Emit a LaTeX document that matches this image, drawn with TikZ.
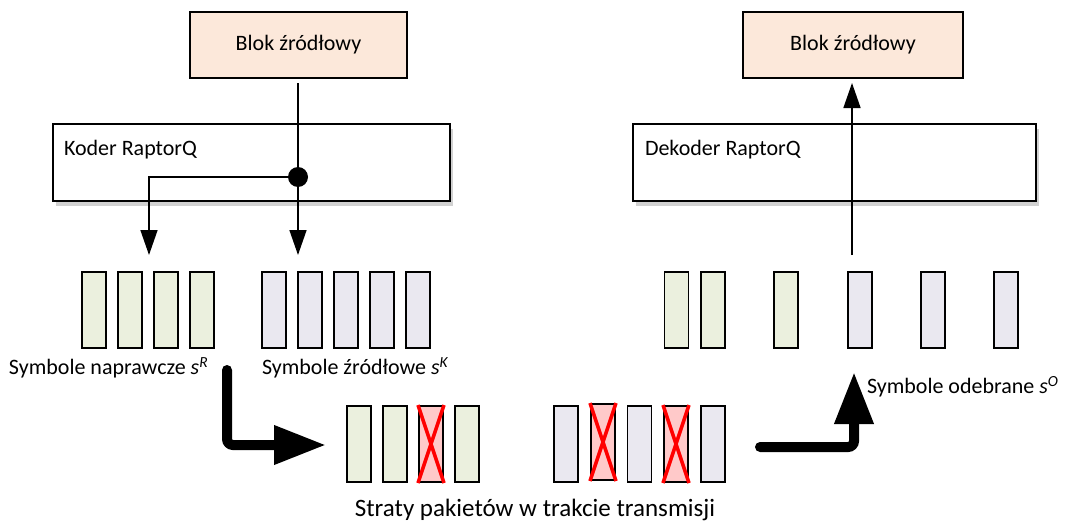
\documentclass[tikz,border=0pt]{standalone}
\usepackage{fontspec}
\setmainfont{Carlito}
\usetikzlibrary{arrows.meta,shadows}
\definecolor{peach}{HTML}{FCE8DA}
\definecolor{symgreen}{HTML}{EBF0DE}
\definecolor{symlav}{HTML}{EAE8F0}
\definecolor{lostred}{HTML}{FFC9C9}
\begin{document}
\begin{tikzpicture}[x=1pt,y=-1pt,
  every node/.style={font=\fontsize{22}{26}\selectfont, inner sep=0pt, outer sep=0pt},
  blokbox/.style={draw, line width=1.5pt, fill=peach, minimum width=217pt, minimum height=66pt},
  coderbox/.style={draw, line width=1.5pt, fill=white, minimum height=77pt,
     drop shadow={shadow xshift=3pt, shadow yshift=-5pt, opacity=0.3, fill=black!60}},
  symbox/.style={draw, line width=1.6pt, minimum width=24pt, minimum height=76pt},
  grn/.style={symbox, fill=symgreen},
  lav/.style={symbox, fill=symlav},
  lost/.style={symbox, fill=lostred},
  redx/.style={draw=red, line width=3.5pt},
  conn/.style={line width=1.5pt},
  thinarrow/.style={conn, -{Triangle[length=25pt,width=17pt]}},
  bigarrow/.style={line width=10pt, rounded corners=6pt, line cap=round,
     -{Triangle[length=52pt,width=37pt]}},
  lbl/.style={anchor=west}
]
\useasboundingbox (0,0) rectangle (1092,527);

% top boxes
\node[blokbox] (blokL) at (298.5,45) {Blok źródłowy};
\node[blokbox, minimum width=220pt] (blokR) at (853,45) {Blok źródłowy};
\node[coderbox, minimum width=397pt] (koder) at (251.5,162.5) {};
\node[coderbox, minimum width=403pt] (dekoder) at (834.5,162.5) {};
\node[lbl] (koderT) at (64,150) {Koder RaptorQ};
\node[lbl] (dekoderT) at (645,150) {Dekoder RaptorQ};

% encoder connectors
\coordinate (srcTop) at (298,83);
\node[circle, fill=black, minimum size=20pt] (dot) at (298,177) {};
\coordinate (tipK) at (298,255);
\coordinate (bendR) at (149,177);
\coordinate (tipR) at (149,255);
\draw[conn] (srcTop) -- (dot.center);
\draw[thinarrow] (dot.center) -- (tipK);
\draw[thinarrow] (dot.center) -- (bendR) -- (tipR);

% decoder connector
\coordinate (decBot) at (852,255);
\coordinate (decTop) at (852,83);
\draw[thinarrow] (decBot) -- (decTop);

% top-left symbols
\foreach \i/\x in {1/94,2/130,3/166,4/202}{
  \node[grn] (r\i) at (\x,310) {};
}
\foreach \i/\x in {1/274,2/310,3/346,4/382,5/418}{
  \node[lav] (k\i) at (\x,310) {};
}
% top-right received symbols
\foreach \i/\x in {1/676.5,2/713,3/786}{
  \node[grn] (og\i) at (\x,310) {};
}
\foreach \i/\x in {1/860,2/933,3/1006}{
  \node[lav] (ol\i) at (\x,310) {};
}
% bottom transmitted
\node[grn] (tg1) at (359,444) {};
\node[grn] (tg2) at (395,444) {};
\node[lost] (tg3) at (431,444) {};
\node[grn] (tg4) at (467,444) {};
\node[lav] (tl1) at (566,444) {};
\node[lost] (tl2) at (603,442) {};
\node[lav] (tl3) at (639.5,444) {};
\node[lost] (tl4) at (676,444) {};
\node[lav] (tl5) at (713,444) {};
\foreach \n in {tg3,tl2,tl4}{
  \draw[redx] ([xshift=-1pt,yshift=1pt]\n.north west) -- ([xshift=1pt,yshift=-1pt]\n.south east);
  \draw[redx] ([xshift=1pt,yshift=1pt]\n.north east) -- ([xshift=-1pt,yshift=-1pt]\n.south west);
}

% labels
\node[lbl] (labR) at (9,368) {Symbole naprawcze \textit{s}\textsuperscript{\textit{R}}};
\node[lbl] (labK) at (262,368) {Symbole źródłowe \textit{s}\textsuperscript{\textit{K}}};
\node[font=\fontsize{25}{30}\selectfont] (labT) at (535,510) {Straty pakietów w trakcie transmisji};
\node[lbl] (labO) at (867,387) {Symbole odebrane \textit{s}\textsuperscript{\textit{O}}};

% big arrows
\coordinate (b1s) at (227,370);
\coordinate (b1c) at (227,445);
\coordinate (b1e) at (326,445);
\draw[bigarrow] (b1s) -- (b1c) -- (b1e);
\coordinate (b2s) at (760,447);
\coordinate (b2c) at (854,447);
\coordinate (b2e) at (854,372);
\draw[bigarrow] (b2s) -- (b2c) -- (b2e);
\end{tikzpicture}
\end{document}
